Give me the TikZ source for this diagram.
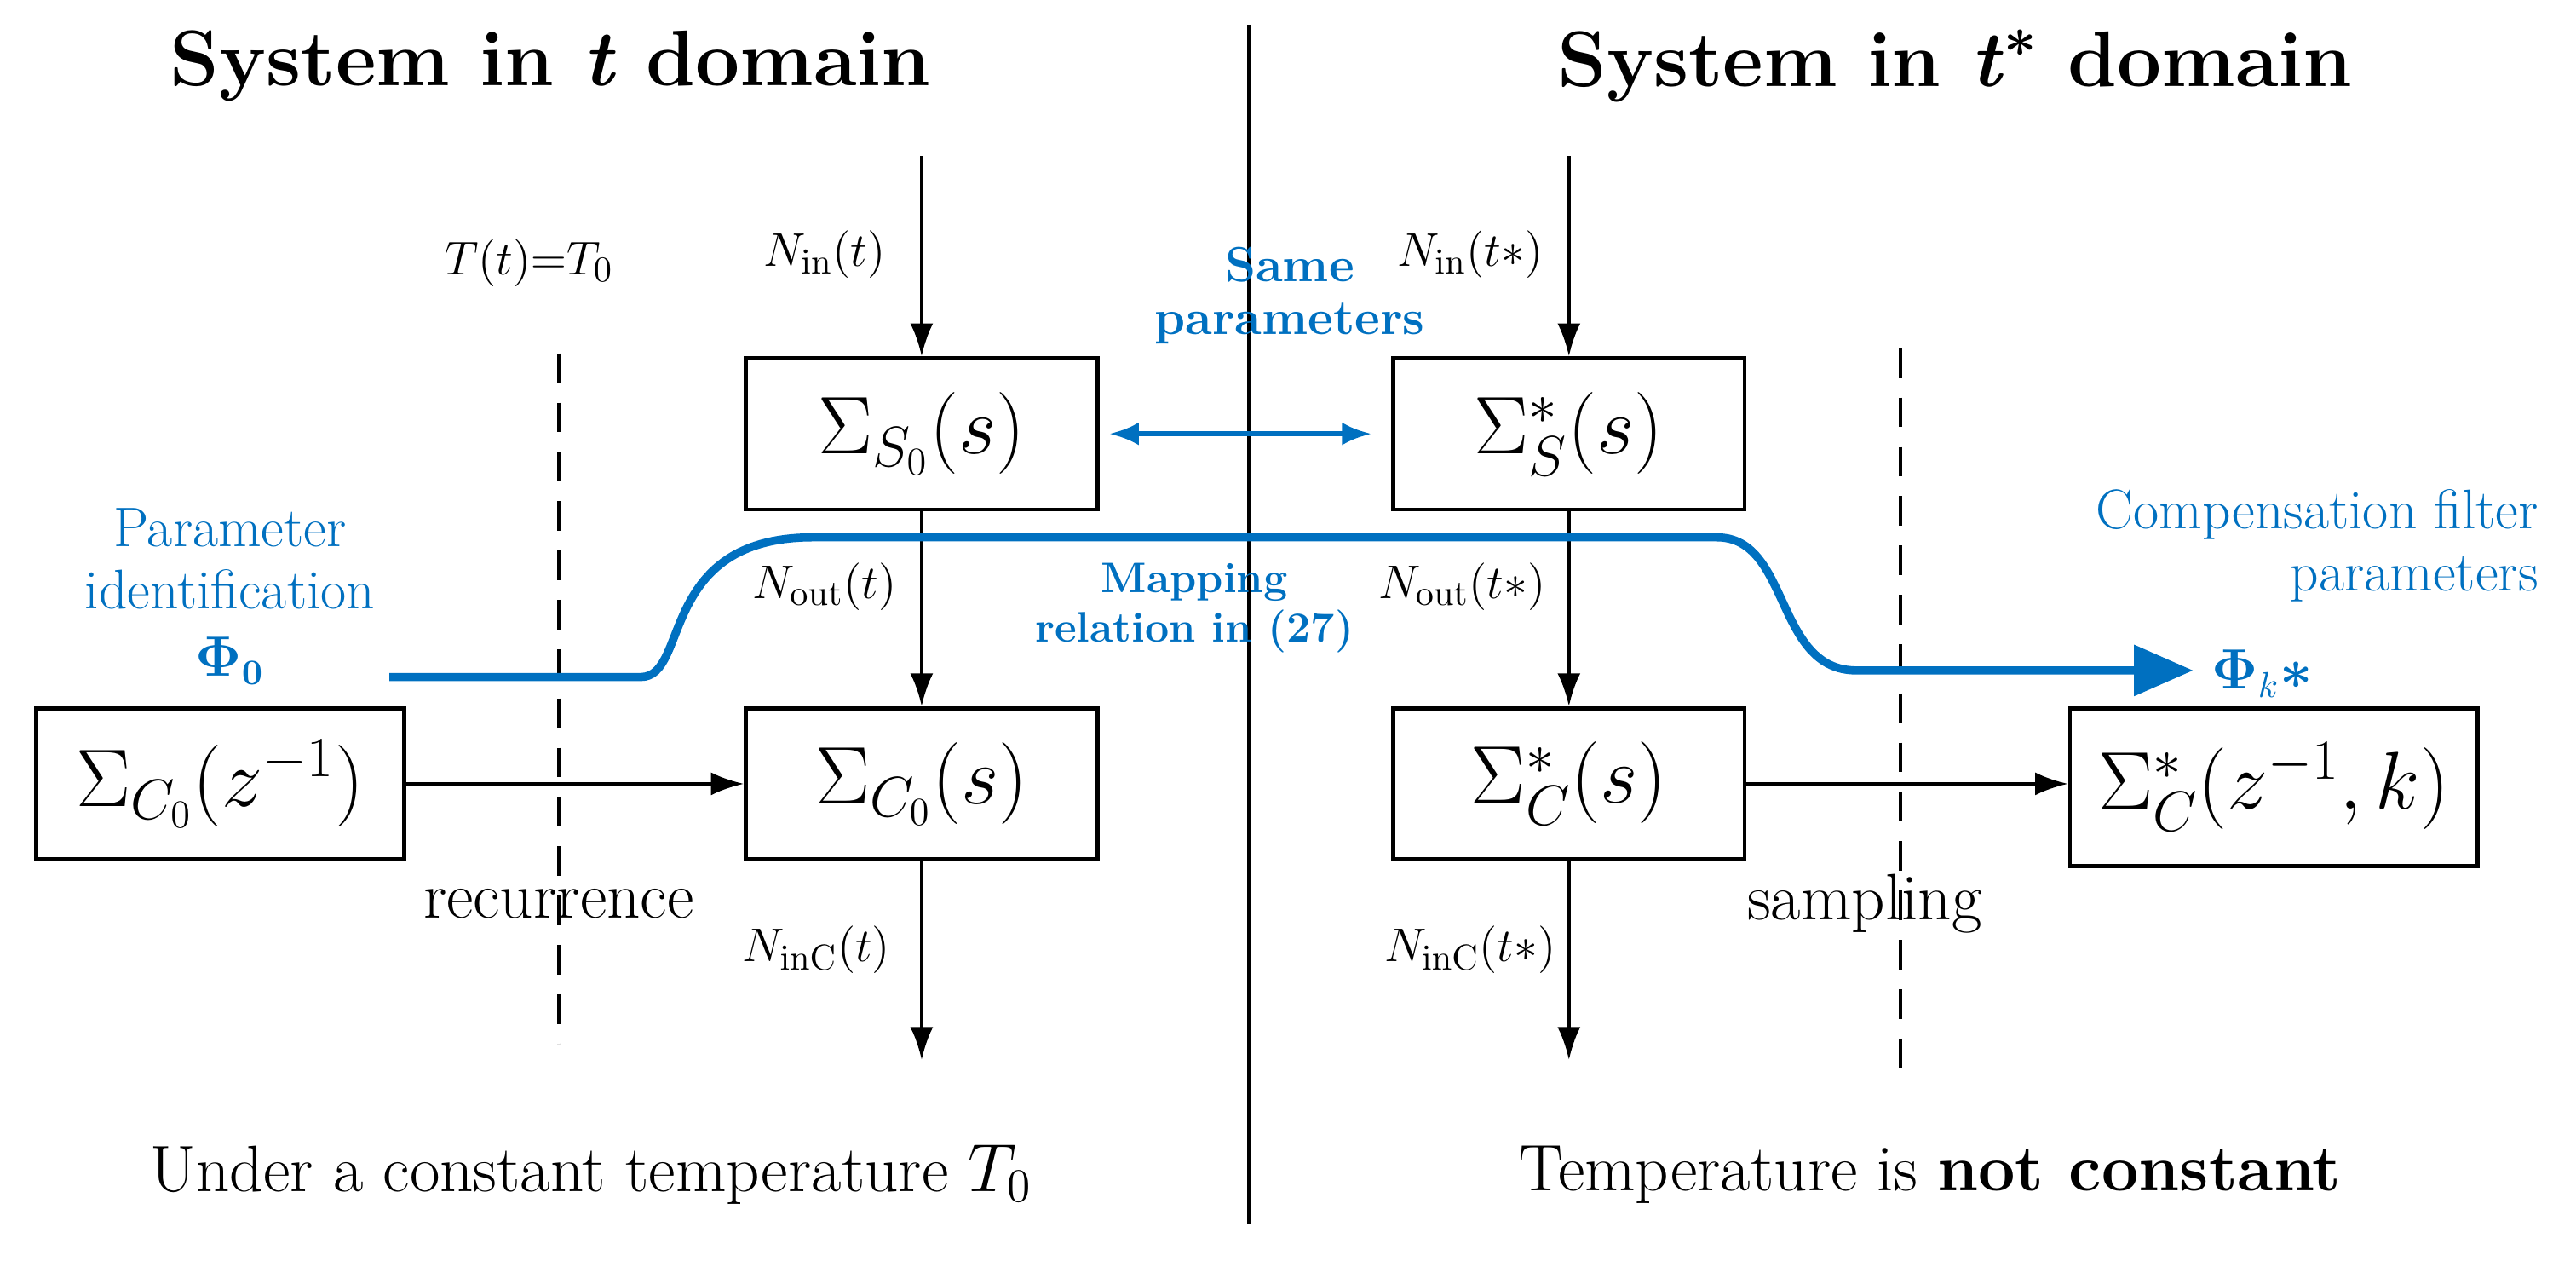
\documentclass[tikz,border=0pt]{standalone}
\usepackage{amsmath}
\usetikzlibrary{arrows.meta}
\definecolor{bl}{RGB}{0,112,192}
\begin{document}
\begin{tikzpicture}[x=0.5pt,y=-0.5pt,
 box/.style={draw,line width=1.2pt,minimum width=107pt,minimum height=46pt,inner sep=0pt,font=\fontsize{23}{26}\selectfont},
 ar/.style={line width=1pt,-{Latex[length=10pt,width=7pt]}},
 lab/.style={font=\fontsize{15}{17}\selectfont},
 big/.style={font=\fontsize{20}{23}\selectfont},
 btxt/.style={text=bl,font=\fontsize{17}{19}\selectfont,align=center},
 ttl/.style={font=\bfseries\fontsize{24}{28}\selectfont}]
\useasboundingbox (0,0) rectangle (1568,767);
\node[ttl] (t1) at (335,40) {System in \textit{t} domain};
\node[ttl] (t2) at (1190,40) {System in \textit{t}$^{\boldsymbol *}$ domain};
\coordinate (v1) at (760,15); \coordinate (v2) at (760,745);
\draw[line width=1pt] (v1) -- (v2);
\node[lab] (tt) at (322,160) {$T(t)$=$T_0$};
\coordinate (d1) at (340,215); \coordinate (d2) at (340,635);
\coordinate (d3) at (1157,212); \coordinate (d4) at (1157,655);
\draw[line width=1pt,dash pattern=on 9pt off 6pt] (d1) -- (d2);
\draw[line width=1pt,dash pattern=on 9pt off 6pt] (d3) -- (d4);
\node[box] (s0) at (561,264) {$\Sigma_{S_0}(s)$};
\node[box] (ss) at (955,264) {$\Sigma^*_{S}(s)$};
\node[box,minimum width=112pt] (cz) at (134,477) {$\Sigma_{C_0}(z^{-1})$};
\node[box] (cs) at (561,477) {$\Sigma_{C_0}(s)$};
\node[box] (css) at (955,477) {$\Sigma^*_{C}(s)$};
\node[box,minimum width=124pt,minimum height=48pt] (czs) at (1384,479) {$\Sigma^*_{C}(z^{-1},k)$};
\coordinate (i1) at (561,95); \coordinate (i2) at (955,95);
\coordinate (o1) at (561,645); \coordinate (o2) at (955,645);
\draw[ar] (i1) -- (s0); \draw[ar] (s0) -- (cs); \draw[ar] (cs.south) -- (o1);
\draw[ar] (i2) -- (ss); \draw[ar] (ss) -- (css); \draw[ar] (css.south) -- (o2);
\draw[ar] (cz) -- (cs); \draw[ar] (css) -- (czs.west|-css);
\node[lab] (l1) at (502,155) {$N_{\mathrm{in}}(t)$};
\node[lab] (l2) at (502,357) {$N_{\mathrm{out}}(t)$};
\node[lab] (l3) at (497,578) {$N_{\mathrm{inC}}(t)$};
\node[lab] (l4) at (895,155) {$N_{\mathrm{in}}(t{*})$};
\node[lab] (l5) at (890,357) {$N_{\mathrm{out}}(t{*})$};
\node[lab] (l6) at (895,578) {$N_{\mathrm{inC}}(t{*})$};
\node[big] (rec) at (340,550) {recurrence};
\node[big] (smp) at (1135,550) {sampling};
\draw[bl,line width=1.5pt,{Latex[length=9pt,width=7pt]}-{Latex[length=9pt,width=7pt]}] (s0.east) ++(6,0) -- ([xshift=-6]ss.west);
\node[btxt,font=\bfseries\fontsize{15}{16}\selectfont] (same) at (785,180) {Same\\parameters};
\node[btxt,font=\bfseries\fontsize{13}{15}\selectfont] (map) at (727,370) {Mapping\\relation in (27)};
\coordinate (p0) at (237,412); \coordinate (p1) at (390,412);
\coordinate (p2) at (495,327); \coordinate (p3) at (1045,327);
\coordinate (p4) at (1130,408); \coordinate (p5) at (1335,408);
\draw[bl,line width=2.5pt,-{Triangle[length=18pt,width=15pt]}] (p0) -- (p1)
 .. controls (420,412) and (400,327) .. (p2) -- (p3)
 .. controls (1090,327) and (1080,408) .. (p4) -- (p5);
\node[btxt] (pi) at (140,340) {Parameter\\identification};
\node[text=bl,font=\bfseries\fontsize{16}{18}\selectfont] (phi0) at (140,402) {$\boldsymbol\Phi_{\mathbf 0}$};
\node[btxt,align=right,anchor=east] (cf) at (1552,332) {Compensation filter\\parameters};
\node[text=bl,font=\bfseries\fontsize{16}{18}\selectfont] (phik) at (1377,410) {$\boldsymbol\Phi_{k}{\boldsymbol *}$};
\node[big] (b1) at (360,715) {Under a constant temperature $T_0$};
\node[big] (b2) at (1175,715) {Temperature is \textbf{not constant}};
\end{tikzpicture}
\end{document}
